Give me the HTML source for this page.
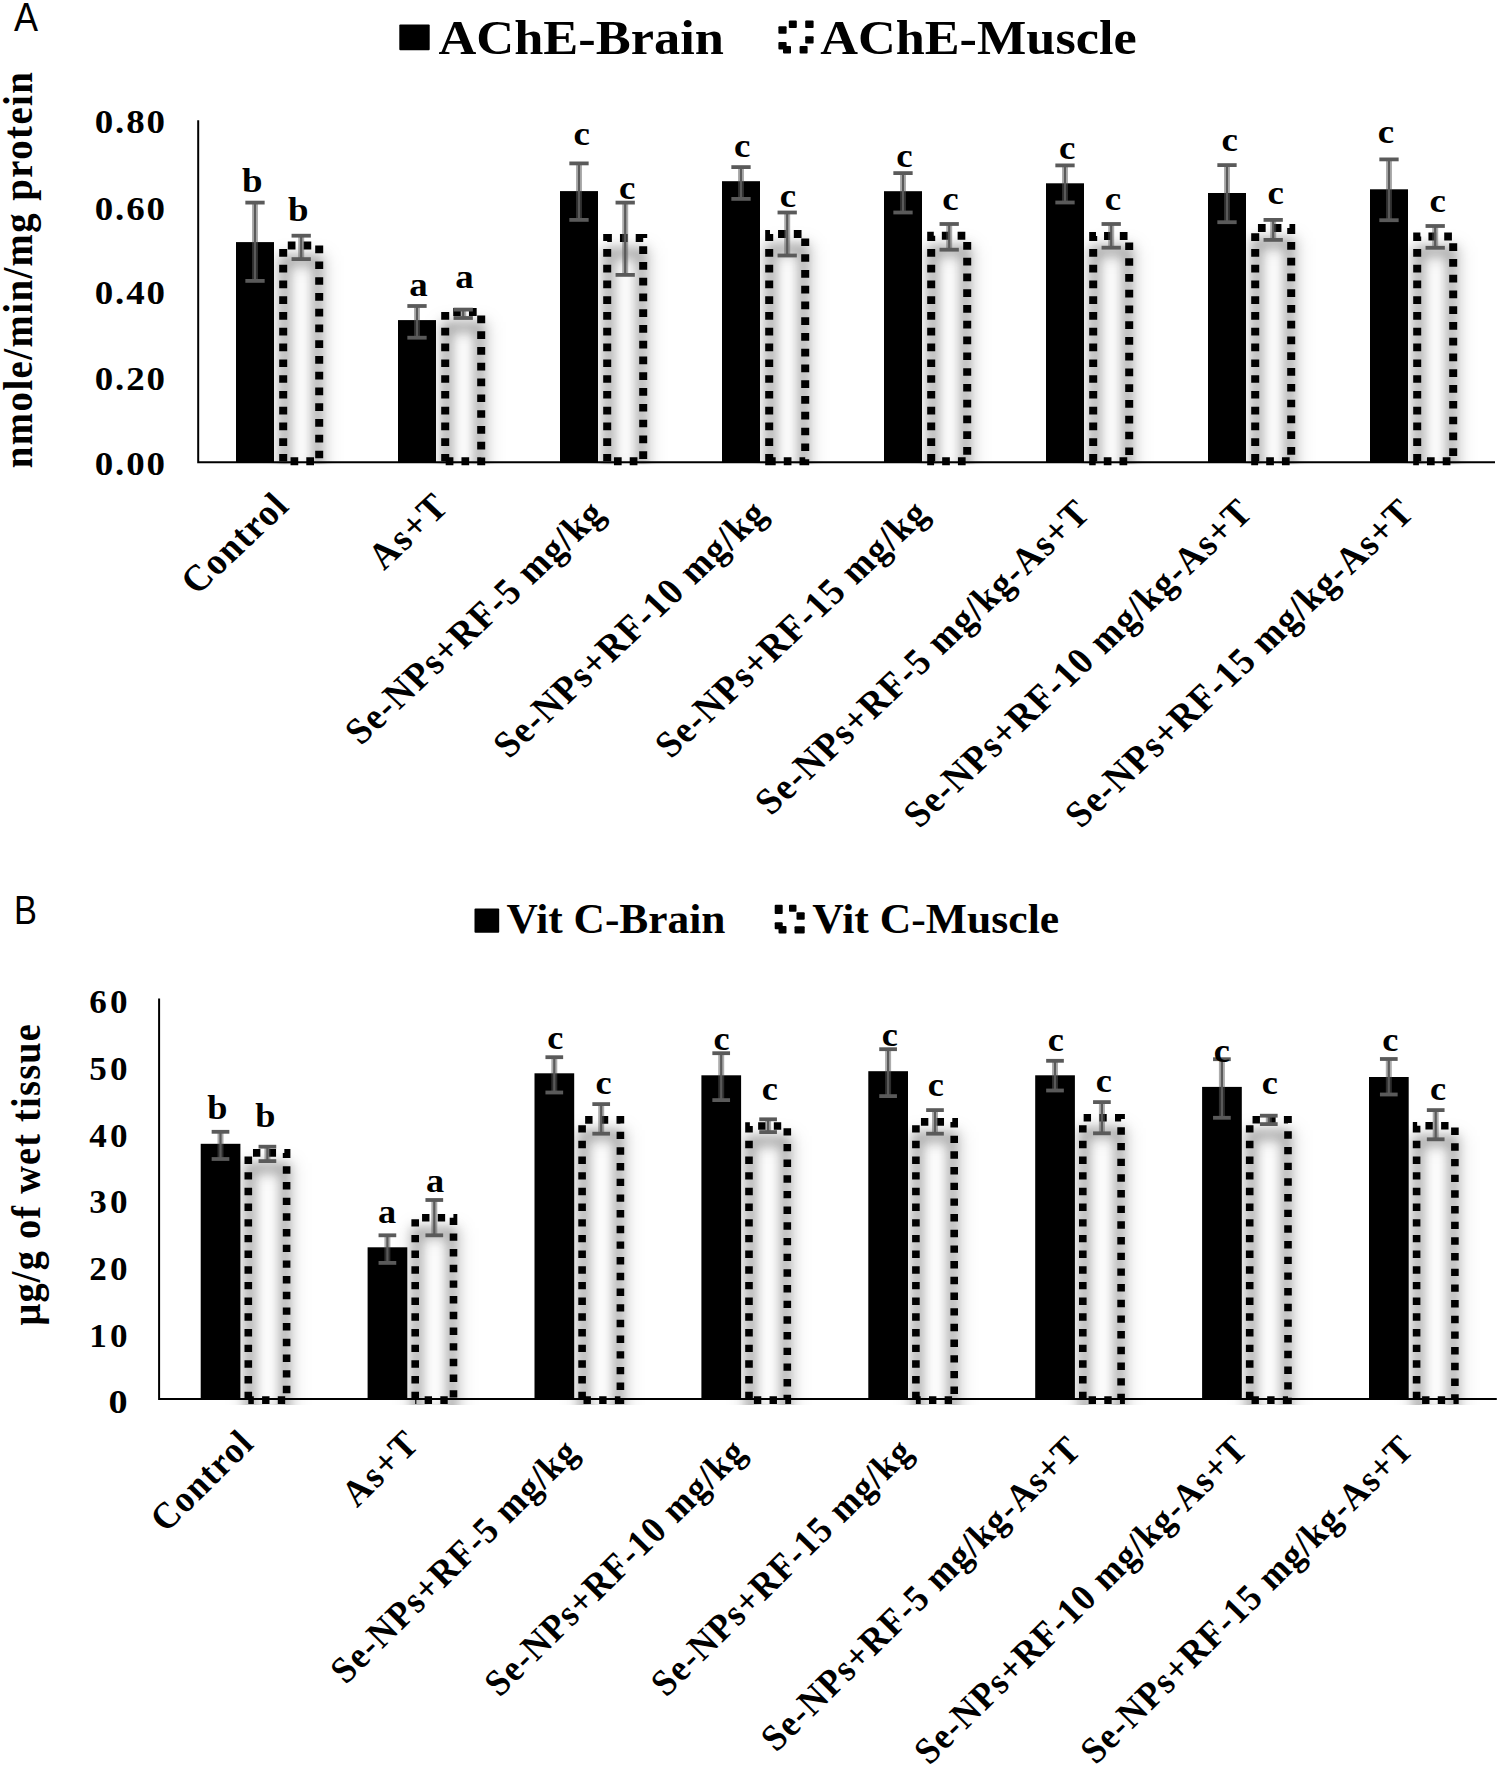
<!DOCTYPE html><html><head><meta charset="utf-8"><style>html,body{margin:0;padding:0;background:#fff;}body{width:1499px;height:1766px;overflow:hidden;}svg{display:block;}</style></head><body>
<svg width="1499" height="1766" viewBox="0 0 1499 1766">
<defs><filter id="bl" x="-50%" y="-20%" width="200%" height="140%"><feGaussianBlur stdDeviation="5.5"/></filter><filter id="bl2" x="-80%" y="-30%" width="260%" height="160%"><feGaussianBlur stdDeviation="9"/></filter></defs>
<rect x="0" y="0" width="1499" height="1766" fill="#fff"/>
<defs><clipPath id="clipA"><rect x="198.2" y="-79.7" width="1316.8" height="543.9"/></clipPath></defs>
<rect x="236.00" y="242.10" width="38.00" height="220.10" fill="#000"/>
<rect x="398.00" y="320.10" width="38.00" height="142.10" fill="#000"/>
<rect x="560.00" y="191.10" width="38.00" height="271.10" fill="#000"/>
<rect x="722.00" y="181.20" width="38.00" height="281.00" fill="#000"/>
<rect x="884.00" y="191.20" width="38.00" height="271.00" fill="#000"/>
<rect x="1046.00" y="183.30" width="38.00" height="278.90" fill="#000"/>
<rect x="1208.00" y="193.00" width="38.00" height="269.20" fill="#000"/>
<rect x="1370.00" y="189.30" width="38.00" height="272.90" fill="#000"/>
<g clip-path="url(#clipA)"><path d="M282.20,461.20 L282.20,245.50 L320.20,245.50 L320.20,461.20 Z" fill="none" stroke="#000" stroke-opacity="0.14" stroke-width="10" transform="translate(1,15)" filter="url(#bl2)"/></g>
<g clip-path="url(#clipA)"><path d="M285.20,461.20 L285.20,245.50 L317.20,245.50 L317.20,461.20 Z" fill="none" stroke="#000" stroke-opacity="0.28" stroke-width="10" transform="translate(0,15)" filter="url(#bl)"/></g>
<path d="M283.20,461.20 L283.20,245.50 L319.20,245.50 L319.20,461.20 Z" fill="none" stroke="#000" stroke-width="8" stroke-dasharray="7.7 8.07" stroke-dashoffset="0.5"/>
<g clip-path="url(#clipA)"><path d="M444.20,461.20 L444.20,312.00 L482.20,312.00 L482.20,461.20 Z" fill="none" stroke="#000" stroke-opacity="0.14" stroke-width="10" transform="translate(1,15)" filter="url(#bl2)"/></g>
<g clip-path="url(#clipA)"><path d="M447.20,461.20 L447.20,312.00 L479.20,312.00 L479.20,461.20 Z" fill="none" stroke="#000" stroke-opacity="0.28" stroke-width="10" transform="translate(0,15)" filter="url(#bl)"/></g>
<path d="M445.20,461.20 L445.20,312.00 L481.20,312.00 L481.20,461.20 Z" fill="none" stroke="#000" stroke-width="8" stroke-dasharray="7.7 8.07" stroke-dashoffset="0.5"/>
<g clip-path="url(#clipA)"><path d="M606.20,461.20 L606.20,237.90 L644.20,237.90 L644.20,461.20 Z" fill="none" stroke="#000" stroke-opacity="0.14" stroke-width="10" transform="translate(1,15)" filter="url(#bl2)"/></g>
<g clip-path="url(#clipA)"><path d="M609.20,461.20 L609.20,237.90 L641.20,237.90 L641.20,461.20 Z" fill="none" stroke="#000" stroke-opacity="0.28" stroke-width="10" transform="translate(0,15)" filter="url(#bl)"/></g>
<path d="M607.20,461.20 L607.20,237.90 L643.20,237.90 L643.20,461.20 Z" fill="none" stroke="#000" stroke-width="8" stroke-dasharray="7.7 8.07" stroke-dashoffset="0.5"/>
<g clip-path="url(#clipA)"><path d="M768.20,461.20 L768.20,234.00 L806.20,234.00 L806.20,461.20 Z" fill="none" stroke="#000" stroke-opacity="0.14" stroke-width="10" transform="translate(1,15)" filter="url(#bl2)"/></g>
<g clip-path="url(#clipA)"><path d="M771.20,461.20 L771.20,234.00 L803.20,234.00 L803.20,461.20 Z" fill="none" stroke="#000" stroke-opacity="0.28" stroke-width="10" transform="translate(0,15)" filter="url(#bl)"/></g>
<path d="M769.20,461.20 L769.20,234.00 L805.20,234.00 L805.20,461.20 Z" fill="none" stroke="#000" stroke-width="8" stroke-dasharray="7.7 8.07" stroke-dashoffset="0.5"/>
<g clip-path="url(#clipA)"><path d="M930.20,461.20 L930.20,235.80 L968.20,235.80 L968.20,461.20 Z" fill="none" stroke="#000" stroke-opacity="0.14" stroke-width="10" transform="translate(1,15)" filter="url(#bl2)"/></g>
<g clip-path="url(#clipA)"><path d="M933.20,461.20 L933.20,235.80 L965.20,235.80 L965.20,461.20 Z" fill="none" stroke="#000" stroke-opacity="0.28" stroke-width="10" transform="translate(0,15)" filter="url(#bl)"/></g>
<path d="M931.20,461.20 L931.20,235.80 L967.20,235.80 L967.20,461.20 Z" fill="none" stroke="#000" stroke-width="8" stroke-dasharray="7.7 8.07" stroke-dashoffset="0.5"/>
<g clip-path="url(#clipA)"><path d="M1092.20,461.20 L1092.20,236.00 L1130.20,236.00 L1130.20,461.20 Z" fill="none" stroke="#000" stroke-opacity="0.14" stroke-width="10" transform="translate(1,15)" filter="url(#bl2)"/></g>
<g clip-path="url(#clipA)"><path d="M1095.20,461.20 L1095.20,236.00 L1127.20,236.00 L1127.20,461.20 Z" fill="none" stroke="#000" stroke-opacity="0.28" stroke-width="10" transform="translate(0,15)" filter="url(#bl)"/></g>
<path d="M1093.20,461.20 L1093.20,236.00 L1129.20,236.00 L1129.20,461.20 Z" fill="none" stroke="#000" stroke-width="8" stroke-dasharray="7.7 8.07" stroke-dashoffset="0.5"/>
<g clip-path="url(#clipA)"><path d="M1254.20,461.20 L1254.20,227.90 L1292.20,227.90 L1292.20,461.20 Z" fill="none" stroke="#000" stroke-opacity="0.14" stroke-width="10" transform="translate(1,15)" filter="url(#bl2)"/></g>
<g clip-path="url(#clipA)"><path d="M1257.20,461.20 L1257.20,227.90 L1289.20,227.90 L1289.20,461.20 Z" fill="none" stroke="#000" stroke-opacity="0.28" stroke-width="10" transform="translate(0,15)" filter="url(#bl)"/></g>
<path d="M1255.20,461.20 L1255.20,227.90 L1291.20,227.90 L1291.20,461.20 Z" fill="none" stroke="#000" stroke-width="8" stroke-dasharray="7.7 8.07" stroke-dashoffset="0.5"/>
<g clip-path="url(#clipA)"><path d="M1416.20,461.20 L1416.20,236.40 L1454.20,236.40 L1454.20,461.20 Z" fill="none" stroke="#000" stroke-opacity="0.14" stroke-width="10" transform="translate(1,15)" filter="url(#bl2)"/></g>
<g clip-path="url(#clipA)"><path d="M1419.20,461.20 L1419.20,236.40 L1451.20,236.40 L1451.20,461.20 Z" fill="none" stroke="#000" stroke-opacity="0.28" stroke-width="10" transform="translate(0,15)" filter="url(#bl)"/></g>
<path d="M1417.20,461.20 L1417.20,236.40 L1453.20,236.40 L1453.20,461.20 Z" fill="none" stroke="#000" stroke-width="8" stroke-dasharray="7.7 8.07" stroke-dashoffset="0.5"/>
<g stroke="#5a5a5a"><line x1="255.00" y1="202.60" x2="255.00" y2="280.90" stroke-width="6" stroke-opacity="0.5"/><line x1="255.00" y1="202.60" x2="255.00" y2="280.90" stroke-width="2.2"/><line x1="245.35" y1="202.60" x2="264.65" y2="202.60" stroke-width="3.8"/><line x1="245.35" y1="280.90" x2="264.65" y2="280.90" stroke-width="3.8"/></g>
<g stroke="#5a5a5a"><line x1="301.20" y1="235.70" x2="301.20" y2="259.10" stroke-width="6" stroke-opacity="0.5"/><line x1="301.20" y1="235.70" x2="301.20" y2="259.10" stroke-width="2.2"/><line x1="291.55" y1="235.70" x2="310.85" y2="235.70" stroke-width="3.8"/><line x1="291.55" y1="259.10" x2="310.85" y2="259.10" stroke-width="3.8"/></g>
<g stroke="#5a5a5a"><line x1="417.00" y1="306.00" x2="417.00" y2="337.70" stroke-width="6" stroke-opacity="0.5"/><line x1="417.00" y1="306.00" x2="417.00" y2="337.70" stroke-width="2.2"/><line x1="407.35" y1="306.00" x2="426.65" y2="306.00" stroke-width="3.8"/><line x1="407.35" y1="337.70" x2="426.65" y2="337.70" stroke-width="3.8"/></g>
<g stroke="#5a5a5a"><line x1="463.20" y1="309.60" x2="463.20" y2="318.00" stroke-width="6" stroke-opacity="0.5"/><line x1="463.20" y1="309.60" x2="463.20" y2="318.00" stroke-width="2.2"/><line x1="453.55" y1="309.60" x2="472.85" y2="309.60" stroke-width="3.8"/><line x1="453.55" y1="318.00" x2="472.85" y2="318.00" stroke-width="3.8"/></g>
<g stroke="#5a5a5a"><line x1="579.00" y1="163.40" x2="579.00" y2="219.90" stroke-width="6" stroke-opacity="0.5"/><line x1="579.00" y1="163.40" x2="579.00" y2="219.90" stroke-width="2.2"/><line x1="569.35" y1="163.40" x2="588.65" y2="163.40" stroke-width="3.8"/><line x1="569.35" y1="219.90" x2="588.65" y2="219.90" stroke-width="3.8"/></g>
<g stroke="#5a5a5a"><line x1="625.20" y1="202.60" x2="625.20" y2="274.90" stroke-width="6" stroke-opacity="0.5"/><line x1="625.20" y1="202.60" x2="625.20" y2="274.90" stroke-width="2.2"/><line x1="615.55" y1="202.60" x2="634.85" y2="202.60" stroke-width="3.8"/><line x1="615.55" y1="274.90" x2="634.85" y2="274.90" stroke-width="3.8"/></g>
<g stroke="#5a5a5a"><line x1="741.00" y1="167.10" x2="741.00" y2="198.90" stroke-width="6" stroke-opacity="0.5"/><line x1="741.00" y1="167.10" x2="741.00" y2="198.90" stroke-width="2.2"/><line x1="731.35" y1="167.10" x2="750.65" y2="167.10" stroke-width="3.8"/><line x1="731.35" y1="198.90" x2="750.65" y2="198.90" stroke-width="3.8"/></g>
<g stroke="#5a5a5a"><line x1="787.20" y1="212.50" x2="787.20" y2="255.50" stroke-width="6" stroke-opacity="0.5"/><line x1="787.20" y1="212.50" x2="787.20" y2="255.50" stroke-width="2.2"/><line x1="777.55" y1="212.50" x2="796.85" y2="212.50" stroke-width="3.8"/><line x1="777.55" y1="255.50" x2="796.85" y2="255.50" stroke-width="3.8"/></g>
<g stroke="#5a5a5a"><line x1="903.00" y1="173.10" x2="903.00" y2="212.50" stroke-width="6" stroke-opacity="0.5"/><line x1="903.00" y1="173.10" x2="903.00" y2="212.50" stroke-width="2.2"/><line x1="893.35" y1="173.10" x2="912.65" y2="173.10" stroke-width="3.8"/><line x1="893.35" y1="212.50" x2="912.65" y2="212.50" stroke-width="3.8"/></g>
<g stroke="#5a5a5a"><line x1="949.20" y1="224.00" x2="949.20" y2="249.70" stroke-width="6" stroke-opacity="0.5"/><line x1="949.20" y1="224.00" x2="949.20" y2="249.70" stroke-width="2.2"/><line x1="939.55" y1="224.00" x2="958.85" y2="224.00" stroke-width="3.8"/><line x1="939.55" y1="249.70" x2="958.85" y2="249.70" stroke-width="3.8"/></g>
<g stroke="#5a5a5a"><line x1="1065.00" y1="165.40" x2="1065.00" y2="202.50" stroke-width="6" stroke-opacity="0.5"/><line x1="1065.00" y1="165.40" x2="1065.00" y2="202.50" stroke-width="2.2"/><line x1="1055.35" y1="165.40" x2="1074.65" y2="165.40" stroke-width="3.8"/><line x1="1055.35" y1="202.50" x2="1074.65" y2="202.50" stroke-width="3.8"/></g>
<g stroke="#5a5a5a"><line x1="1111.20" y1="224.00" x2="1111.20" y2="247.70" stroke-width="6" stroke-opacity="0.5"/><line x1="1111.20" y1="224.00" x2="1111.20" y2="247.70" stroke-width="2.2"/><line x1="1101.55" y1="224.00" x2="1120.85" y2="224.00" stroke-width="3.8"/><line x1="1101.55" y1="247.70" x2="1120.85" y2="247.70" stroke-width="3.8"/></g>
<g stroke="#5a5a5a"><line x1="1227.00" y1="165.10" x2="1227.00" y2="222.20" stroke-width="6" stroke-opacity="0.5"/><line x1="1227.00" y1="165.10" x2="1227.00" y2="222.20" stroke-width="2.2"/><line x1="1217.35" y1="165.10" x2="1236.65" y2="165.10" stroke-width="3.8"/><line x1="1217.35" y1="222.20" x2="1236.65" y2="222.20" stroke-width="3.8"/></g>
<g stroke="#5a5a5a"><line x1="1273.20" y1="219.90" x2="1273.20" y2="239.90" stroke-width="6" stroke-opacity="0.5"/><line x1="1273.20" y1="219.90" x2="1273.20" y2="239.90" stroke-width="2.2"/><line x1="1263.55" y1="219.90" x2="1282.85" y2="219.90" stroke-width="3.8"/><line x1="1263.55" y1="239.90" x2="1282.85" y2="239.90" stroke-width="3.8"/></g>
<g stroke="#5a5a5a"><line x1="1389.00" y1="159.40" x2="1389.00" y2="220.20" stroke-width="6" stroke-opacity="0.5"/><line x1="1389.00" y1="159.40" x2="1389.00" y2="220.20" stroke-width="2.2"/><line x1="1379.35" y1="159.40" x2="1398.65" y2="159.40" stroke-width="3.8"/><line x1="1379.35" y1="220.20" x2="1398.65" y2="220.20" stroke-width="3.8"/></g>
<g stroke="#5a5a5a"><line x1="1435.20" y1="226.00" x2="1435.20" y2="247.80" stroke-width="6" stroke-opacity="0.5"/><line x1="1435.20" y1="226.00" x2="1435.20" y2="247.80" stroke-width="2.2"/><line x1="1425.55" y1="226.00" x2="1444.85" y2="226.00" stroke-width="3.8"/><line x1="1425.55" y1="247.80" x2="1444.85" y2="247.80" stroke-width="3.8"/></g>
<path d="M198.20,120.30 L198.20,462.20 L1495.00,462.20" fill="none" stroke="#000" stroke-width="2"/>
<text id="t0" class="lA" transform="translate(252.20,191.60) scale(1.1200,1)" font-family='"Liberation Serif", serif' font-weight="bold" font-size="33.00" text-anchor="middle">b</text>
<text id="t1" class="lA" transform="translate(298.20,221.00) scale(1.1200,1)" font-family='"Liberation Serif", serif' font-weight="bold" font-size="33.00" text-anchor="middle">b</text>
<text id="t2" class="lA" transform="translate(418.40,295.90) scale(1.1200,1)" font-family='"Liberation Serif", serif' font-weight="bold" font-size="33.00" text-anchor="middle">a</text>
<text id="t3" class="lA" transform="translate(464.50,287.90) scale(1.1200,1)" font-family='"Liberation Serif", serif' font-weight="bold" font-size="33.00" text-anchor="middle">a</text>
<text id="t4" class="lA" transform="translate(581.60,145.30) scale(1.1200,1)" font-family='"Liberation Serif", serif' font-weight="bold" font-size="33.00" text-anchor="middle">c</text>
<text id="t5" class="lA" transform="translate(627.30,199.20) scale(1.1200,1)" font-family='"Liberation Serif", serif' font-weight="bold" font-size="33.00" text-anchor="middle">c</text>
<text id="t6" class="lA" transform="translate(742.10,156.70) scale(1.1200,1)" font-family='"Liberation Serif", serif' font-weight="bold" font-size="33.00" text-anchor="middle">c</text>
<text id="t7" class="lA" transform="translate(788.00,207.40) scale(1.1200,1)" font-family='"Liberation Serif", serif' font-weight="bold" font-size="33.00" text-anchor="middle">c</text>
<text id="t8" class="lA" transform="translate(904.50,166.70) scale(1.1200,1)" font-family='"Liberation Serif", serif' font-weight="bold" font-size="33.00" text-anchor="middle">c</text>
<text id="t9" class="lA" transform="translate(950.40,209.70) scale(1.1200,1)" font-family='"Liberation Serif", serif' font-weight="bold" font-size="33.00" text-anchor="middle">c</text>
<text id="t10" class="lA" transform="translate(1067.20,159.00) scale(1.1200,1)" font-family='"Liberation Serif", serif' font-weight="bold" font-size="33.00" text-anchor="middle">c</text>
<text id="t11" class="lA" transform="translate(1113.00,209.70) scale(1.1200,1)" font-family='"Liberation Serif", serif' font-weight="bold" font-size="33.00" text-anchor="middle">c</text>
<text id="t12" class="lA" transform="translate(1229.70,150.80) scale(1.1200,1)" font-family='"Liberation Serif", serif' font-weight="bold" font-size="33.00" text-anchor="middle">c</text>
<text id="t13" class="lA" transform="translate(1275.60,204.30) scale(1.1200,1)" font-family='"Liberation Serif", serif' font-weight="bold" font-size="33.00" text-anchor="middle">c</text>
<text id="t14" class="lA" transform="translate(1385.90,143.00) scale(1.1200,1)" font-family='"Liberation Serif", serif' font-weight="bold" font-size="33.00" text-anchor="middle">c</text>
<text id="t15" class="lA" transform="translate(1437.80,211.50) scale(1.1200,1)" font-family='"Liberation Serif", serif' font-weight="bold" font-size="33.00" text-anchor="middle">c</text>
<text id="t16" class="tA" transform="translate(165.00,474.50) scale(1.2000,1) scale(0.9200,1)" font-family='"Liberation Serif", serif' font-weight="bold" font-size="33.50" text-anchor="end" textLength="63.72" lengthAdjust="spacing">0.00</text>
<text id="t17" class="tA" transform="translate(165.00,390.30) scale(1.2000,1) scale(0.9200,1)" font-family='"Liberation Serif", serif' font-weight="bold" font-size="33.50" text-anchor="end" textLength="63.72" lengthAdjust="spacing">0.20</text>
<text id="t18" class="tA" transform="translate(165.00,303.60) scale(1.2000,1) scale(0.9200,1)" font-family='"Liberation Serif", serif' font-weight="bold" font-size="33.50" text-anchor="end" textLength="63.72" lengthAdjust="spacing">0.40</text>
<text id="t19" class="tA" transform="translate(165.00,219.50) scale(1.2000,1) scale(0.9200,1)" font-family='"Liberation Serif", serif' font-weight="bold" font-size="33.50" text-anchor="end" textLength="63.72" lengthAdjust="spacing">0.60</text>
<text id="t20" class="tA" transform="translate(165.00,133.20) scale(1.2000,1) scale(0.9200,1)" font-family='"Liberation Serif", serif' font-weight="bold" font-size="33.50" text-anchor="end" textLength="63.72" lengthAdjust="spacing">0.80</text>
<text id="t21" class="yA" transform="translate(32.40,270.15) rotate(-90) scale(0.9300,1)" font-family='"Liberation Serif", serif' font-weight="bold" font-size="41.65" text-anchor="middle" textLength="425.79" lengthAdjust="spacing">nmole/min/mg protein</text>
<text id="t22" class="xA0" transform="translate(290.30,508.40) scale(1.0650,1) rotate(-45) scale(0.9300,1)" font-family='"Liberation Serif", serif' font-weight="bold" font-size="37.40" text-anchor="end" textLength="133.28" lengthAdjust="spacing">Control</text>
<text id="t23" class="xA1" transform="translate(450.10,509.10) scale(1.0650,1) rotate(-45) scale(0.9300,1)" font-family='"Liberation Serif", serif' font-weight="bold" font-size="37.40" text-anchor="end" textLength="94.41" lengthAdjust="spacing">As+T</text>
<text id="t24" class="xA2" transform="translate(606.20,516.10) scale(1.0650,1) rotate(-45) scale(0.9300,1)" font-family='"Liberation Serif", serif' font-weight="bold" font-size="37.40" text-anchor="end" textLength="350.12" lengthAdjust="spacing">Se-NPs+RF-5 mg/kg</text>
<text id="t25" class="xA3" transform="translate(768.60,516.10) scale(1.0650,1) rotate(-45) scale(0.9300,1)" font-family='"Liberation Serif", serif' font-weight="bold" font-size="37.40" text-anchor="end" textLength="370.22" lengthAdjust="spacing">Se-NPs+RF-10 mg/kg</text>
<text id="t26" class="xA4" transform="translate(930.20,516.10) scale(1.0650,1) rotate(-45) scale(0.9300,1)" font-family='"Liberation Serif", serif' font-weight="bold" font-size="37.40" text-anchor="end" textLength="370.22" lengthAdjust="spacing">Se-NPs+RF-15 mg/kg</text>
<text id="t27" class="xA5" transform="translate(1091.80,515.50) scale(1.0650,1) rotate(-45) scale(0.9300,1)" font-family='"Liberation Serif", serif' font-weight="bold" font-size="37.40" text-anchor="end" textLength="457.92" lengthAdjust="spacing">Se-NPs+RF-5 mg/kg-As+T</text>
<text id="t28" class="xA6" transform="translate(1254.20,514.90) scale(1.0650,1) rotate(-45) scale(0.9300,1)" font-family='"Liberation Serif", serif' font-weight="bold" font-size="37.40" text-anchor="end" textLength="478.02" lengthAdjust="spacing">Se-NPs+RF-10 mg/kg-As+T</text>
<text id="t29" class="xA7" transform="translate(1415.80,514.90) scale(1.0650,1) rotate(-45) scale(0.9300,1)" font-family='"Liberation Serif", serif' font-weight="bold" font-size="37.40" text-anchor="end" textLength="478.02" lengthAdjust="spacing">Se-NPs+RF-15 mg/kg-As+T</text>
<rect x="399.3" y="24.5" width="30.4" height="25.7" fill="#000" rx="1"/>
<text id="t30" class="g1A" transform="translate(438.50,54.00) scale(1.0920,1)" font-family='"Liberation Serif", serif' font-weight="bold" font-size="48.00" text-anchor="start">AChE-Brain</text>
<rect x="778.4" y="26.2" width="8.2" height="7.6" fill="#000" rx="1"/>
<rect x="788.8" y="20.4" width="8" height="7.6" fill="#000" rx="1"/>
<rect x="805.2" y="20.4" width="8.4" height="7.6" fill="#000" rx="1"/>
<rect x="805.2" y="36.2" width="8.4" height="7.4" fill="#000" rx="1"/>
<rect x="799.6" y="46" width="8" height="7.6" fill="#000" rx="1"/>
<rect x="783" y="46" width="8" height="7.6" fill="#000" rx="1"/>
<rect x="778.4" y="42" width="8.2" height="7.4" fill="#000" rx="1"/>
<text id="t31" class="g2A" transform="translate(820.20,54.00) scale(1.0890,1)" font-family='"Liberation Serif", serif' font-weight="bold" font-size="48.00" text-anchor="start">AChE-Muscle</text>
<text id="t32" class="pA" transform="translate(13.90,31.30) scale(0.8950,1)" font-family='"Liberation Sans", sans-serif' font-weight="normal" font-size="40.30" text-anchor="start">A</text>
<defs><clipPath id="clipB"><rect x="159.1" y="798.5" width="1357.7" height="606.5999999999999"/></clipPath></defs>
<rect x="200.70" y="1143.80" width="39.70" height="255.30" fill="#000"/>
<rect x="367.60" y="1247.30" width="39.70" height="151.80" fill="#000"/>
<rect x="534.50" y="1073.30" width="39.70" height="325.80" fill="#000"/>
<rect x="701.40" y="1075.30" width="39.70" height="323.80" fill="#000"/>
<rect x="868.30" y="1071.20" width="39.70" height="327.90" fill="#000"/>
<rect x="1035.20" y="1075.30" width="39.70" height="323.80" fill="#000"/>
<rect x="1202.10" y="1086.90" width="39.70" height="312.20" fill="#000"/>
<rect x="1369.00" y="1077.00" width="39.70" height="322.10" fill="#000"/>
<g clip-path="url(#clipB)"><path d="M247.30,1400.10 L247.30,1152.90 L287.60,1152.90 L287.60,1400.10 Z" fill="none" stroke="#000" stroke-opacity="0.14" stroke-width="10" transform="translate(1,15)" filter="url(#bl2)"/></g>
<g clip-path="url(#clipB)"><path d="M250.30,1400.10 L250.30,1152.90 L284.60,1152.90 L284.60,1400.10 Z" fill="none" stroke="#000" stroke-opacity="0.28" stroke-width="10" transform="translate(0,15)" filter="url(#bl)"/></g>
<path d="M248.30,1400.10 L248.30,1152.90 L286.60,1152.90 L286.60,1400.10 Z" fill="none" stroke="#000" stroke-width="7.6" stroke-dasharray="7.4 8.28" stroke-dashoffset="-1.0"/>
<g clip-path="url(#clipB)"><path d="M414.20,1400.10 L414.20,1217.80 L454.50,1217.80 L454.50,1400.10 Z" fill="none" stroke="#000" stroke-opacity="0.14" stroke-width="10" transform="translate(1,15)" filter="url(#bl2)"/></g>
<g clip-path="url(#clipB)"><path d="M417.20,1400.10 L417.20,1217.80 L451.50,1217.80 L451.50,1400.10 Z" fill="none" stroke="#000" stroke-opacity="0.28" stroke-width="10" transform="translate(0,15)" filter="url(#bl)"/></g>
<path d="M415.20,1400.10 L415.20,1217.80 L453.50,1217.80 L453.50,1400.10 Z" fill="none" stroke="#000" stroke-width="7.6" stroke-dasharray="7.4 8.28" stroke-dashoffset="-1.0"/>
<g clip-path="url(#clipB)"><path d="M581.10,1400.10 L581.10,1119.90 L621.40,1119.90 L621.40,1400.10 Z" fill="none" stroke="#000" stroke-opacity="0.14" stroke-width="10" transform="translate(1,15)" filter="url(#bl2)"/></g>
<g clip-path="url(#clipB)"><path d="M584.10,1400.10 L584.10,1119.90 L618.40,1119.90 L618.40,1400.10 Z" fill="none" stroke="#000" stroke-opacity="0.28" stroke-width="10" transform="translate(0,15)" filter="url(#bl)"/></g>
<path d="M582.10,1400.10 L582.10,1119.90 L620.40,1119.90 L620.40,1400.10 Z" fill="none" stroke="#000" stroke-width="7.6" stroke-dasharray="7.4 8.28" stroke-dashoffset="-1.0"/>
<g clip-path="url(#clipB)"><path d="M748.00,1400.10 L748.00,1126.00 L788.30,1126.00 L788.30,1400.10 Z" fill="none" stroke="#000" stroke-opacity="0.14" stroke-width="10" transform="translate(1,15)" filter="url(#bl2)"/></g>
<g clip-path="url(#clipB)"><path d="M751.00,1400.10 L751.00,1126.00 L785.30,1126.00 L785.30,1400.10 Z" fill="none" stroke="#000" stroke-opacity="0.28" stroke-width="10" transform="translate(0,15)" filter="url(#bl)"/></g>
<path d="M749.00,1400.10 L749.00,1126.00 L787.30,1126.00 L787.30,1400.10 Z" fill="none" stroke="#000" stroke-width="7.6" stroke-dasharray="7.4 8.28" stroke-dashoffset="-1.0"/>
<g clip-path="url(#clipB)"><path d="M914.90,1400.10 L914.90,1121.90 L955.20,1121.90 L955.20,1400.10 Z" fill="none" stroke="#000" stroke-opacity="0.14" stroke-width="10" transform="translate(1,15)" filter="url(#bl2)"/></g>
<g clip-path="url(#clipB)"><path d="M917.90,1400.10 L917.90,1121.90 L952.20,1121.90 L952.20,1400.10 Z" fill="none" stroke="#000" stroke-opacity="0.28" stroke-width="10" transform="translate(0,15)" filter="url(#bl)"/></g>
<path d="M915.90,1400.10 L915.90,1121.90 L954.20,1121.90 L954.20,1400.10 Z" fill="none" stroke="#000" stroke-width="7.6" stroke-dasharray="7.4 8.28" stroke-dashoffset="-1.0"/>
<g clip-path="url(#clipB)"><path d="M1081.80,1400.10 L1081.80,1117.70 L1122.10,1117.70 L1122.10,1400.10 Z" fill="none" stroke="#000" stroke-opacity="0.14" stroke-width="10" transform="translate(1,15)" filter="url(#bl2)"/></g>
<g clip-path="url(#clipB)"><path d="M1084.80,1400.10 L1084.80,1117.70 L1119.10,1117.70 L1119.10,1400.10 Z" fill="none" stroke="#000" stroke-opacity="0.28" stroke-width="10" transform="translate(0,15)" filter="url(#bl)"/></g>
<path d="M1082.80,1400.10 L1082.80,1117.70 L1121.10,1117.70 L1121.10,1400.10 Z" fill="none" stroke="#000" stroke-width="7.6" stroke-dasharray="7.4 8.28" stroke-dashoffset="-1.0"/>
<g clip-path="url(#clipB)"><path d="M1248.70,1400.10 L1248.70,1119.70 L1289.00,1119.70 L1289.00,1400.10 Z" fill="none" stroke="#000" stroke-opacity="0.14" stroke-width="10" transform="translate(1,15)" filter="url(#bl2)"/></g>
<g clip-path="url(#clipB)"><path d="M1251.70,1400.10 L1251.70,1119.70 L1286.00,1119.70 L1286.00,1400.10 Z" fill="none" stroke="#000" stroke-opacity="0.28" stroke-width="10" transform="translate(0,15)" filter="url(#bl)"/></g>
<path d="M1249.70,1400.10 L1249.70,1119.70 L1288.00,1119.70 L1288.00,1400.10 Z" fill="none" stroke="#000" stroke-width="7.6" stroke-dasharray="7.4 8.28" stroke-dashoffset="-1.0"/>
<g clip-path="url(#clipB)"><path d="M1415.60,1400.10 L1415.60,1125.70 L1455.90,1125.70 L1455.90,1400.10 Z" fill="none" stroke="#000" stroke-opacity="0.14" stroke-width="10" transform="translate(1,15)" filter="url(#bl2)"/></g>
<g clip-path="url(#clipB)"><path d="M1418.60,1400.10 L1418.60,1125.70 L1452.90,1125.70 L1452.90,1400.10 Z" fill="none" stroke="#000" stroke-opacity="0.28" stroke-width="10" transform="translate(0,15)" filter="url(#bl)"/></g>
<path d="M1416.60,1400.10 L1416.60,1125.70 L1454.90,1125.70 L1454.90,1400.10 Z" fill="none" stroke="#000" stroke-width="7.6" stroke-dasharray="7.4 8.28" stroke-dashoffset="-1.0"/>
<g stroke="#5a5a5a"><line x1="220.50" y1="1131.80" x2="220.50" y2="1159.00" stroke-width="6" stroke-opacity="0.5"/><line x1="220.50" y1="1131.80" x2="220.50" y2="1159.00" stroke-width="2.2"/><line x1="211.65" y1="1131.80" x2="229.35" y2="1131.80" stroke-width="3.8"/><line x1="211.65" y1="1159.00" x2="229.35" y2="1159.00" stroke-width="3.8"/></g>
<g stroke="#5a5a5a"><line x1="267.40" y1="1146.70" x2="267.40" y2="1161.10" stroke-width="6" stroke-opacity="0.5"/><line x1="267.40" y1="1146.70" x2="267.40" y2="1161.10" stroke-width="2.2"/><line x1="258.55" y1="1146.70" x2="276.25" y2="1146.70" stroke-width="3.8"/><line x1="258.55" y1="1161.10" x2="276.25" y2="1161.10" stroke-width="3.8"/></g>
<g stroke="#5a5a5a"><line x1="387.40" y1="1235.30" x2="387.40" y2="1262.90" stroke-width="6" stroke-opacity="0.5"/><line x1="387.40" y1="1235.30" x2="387.40" y2="1262.90" stroke-width="2.2"/><line x1="378.55" y1="1235.30" x2="396.25" y2="1235.30" stroke-width="3.8"/><line x1="378.55" y1="1262.90" x2="396.25" y2="1262.90" stroke-width="3.8"/></g>
<g stroke="#5a5a5a"><line x1="434.30" y1="1200.00" x2="434.30" y2="1235.30" stroke-width="6" stroke-opacity="0.5"/><line x1="434.30" y1="1200.00" x2="434.30" y2="1235.30" stroke-width="2.2"/><line x1="425.45" y1="1200.00" x2="443.15" y2="1200.00" stroke-width="3.8"/><line x1="425.45" y1="1235.30" x2="443.15" y2="1235.30" stroke-width="3.8"/></g>
<g stroke="#5a5a5a"><line x1="554.30" y1="1057.20" x2="554.30" y2="1092.50" stroke-width="6" stroke-opacity="0.5"/><line x1="554.30" y1="1057.20" x2="554.30" y2="1092.50" stroke-width="2.2"/><line x1="545.45" y1="1057.20" x2="563.15" y2="1057.20" stroke-width="3.8"/><line x1="545.45" y1="1092.50" x2="563.15" y2="1092.50" stroke-width="3.8"/></g>
<g stroke="#5a5a5a"><line x1="601.20" y1="1104.10" x2="601.20" y2="1133.70" stroke-width="6" stroke-opacity="0.5"/><line x1="601.20" y1="1104.10" x2="601.20" y2="1133.70" stroke-width="2.2"/><line x1="592.35" y1="1104.10" x2="610.05" y2="1104.10" stroke-width="3.8"/><line x1="592.35" y1="1133.70" x2="610.05" y2="1133.70" stroke-width="3.8"/></g>
<g stroke="#5a5a5a"><line x1="721.20" y1="1053.20" x2="721.20" y2="1100.10" stroke-width="6" stroke-opacity="0.5"/><line x1="721.20" y1="1053.20" x2="721.20" y2="1100.10" stroke-width="2.2"/><line x1="712.35" y1="1053.20" x2="730.05" y2="1053.20" stroke-width="3.8"/><line x1="712.35" y1="1100.10" x2="730.05" y2="1100.10" stroke-width="3.8"/></g>
<g stroke="#5a5a5a"><line x1="768.10" y1="1119.30" x2="768.10" y2="1132.10" stroke-width="6" stroke-opacity="0.5"/><line x1="768.10" y1="1119.30" x2="768.10" y2="1132.10" stroke-width="2.2"/><line x1="759.25" y1="1119.30" x2="776.95" y2="1119.30" stroke-width="3.8"/><line x1="759.25" y1="1132.10" x2="776.95" y2="1132.10" stroke-width="3.8"/></g>
<g stroke="#5a5a5a"><line x1="888.10" y1="1049.20" x2="888.10" y2="1096.10" stroke-width="6" stroke-opacity="0.5"/><line x1="888.10" y1="1049.20" x2="888.10" y2="1096.10" stroke-width="2.2"/><line x1="879.25" y1="1049.20" x2="896.95" y2="1049.20" stroke-width="3.8"/><line x1="879.25" y1="1096.10" x2="896.95" y2="1096.10" stroke-width="3.8"/></g>
<g stroke="#5a5a5a"><line x1="935.00" y1="1110.10" x2="935.00" y2="1133.70" stroke-width="6" stroke-opacity="0.5"/><line x1="935.00" y1="1110.10" x2="935.00" y2="1133.70" stroke-width="2.2"/><line x1="926.15" y1="1110.10" x2="943.85" y2="1110.10" stroke-width="3.8"/><line x1="926.15" y1="1133.70" x2="943.85" y2="1133.70" stroke-width="3.8"/></g>
<g stroke="#5a5a5a"><line x1="1055.00" y1="1060.80" x2="1055.00" y2="1090.50" stroke-width="6" stroke-opacity="0.5"/><line x1="1055.00" y1="1060.80" x2="1055.00" y2="1090.50" stroke-width="2.2"/><line x1="1046.15" y1="1060.80" x2="1063.85" y2="1060.80" stroke-width="3.8"/><line x1="1046.15" y1="1090.50" x2="1063.85" y2="1090.50" stroke-width="3.8"/></g>
<g stroke="#5a5a5a"><line x1="1101.90" y1="1102.10" x2="1101.90" y2="1133.30" stroke-width="6" stroke-opacity="0.5"/><line x1="1101.90" y1="1102.10" x2="1101.90" y2="1133.30" stroke-width="2.2"/><line x1="1093.05" y1="1102.10" x2="1110.75" y2="1102.10" stroke-width="3.8"/><line x1="1093.05" y1="1133.30" x2="1110.75" y2="1133.30" stroke-width="3.8"/></g>
<g stroke="#5a5a5a"><line x1="1221.90" y1="1059.20" x2="1221.90" y2="1117.80" stroke-width="6" stroke-opacity="0.5"/><line x1="1221.90" y1="1059.20" x2="1221.90" y2="1117.80" stroke-width="2.2"/><line x1="1213.05" y1="1059.20" x2="1230.75" y2="1059.20" stroke-width="3.8"/><line x1="1213.05" y1="1117.80" x2="1230.75" y2="1117.80" stroke-width="3.8"/></g>
<g stroke="#5a5a5a"><line x1="1268.80" y1="1115.70" x2="1268.80" y2="1124.10" stroke-width="6" stroke-opacity="0.5"/><line x1="1268.80" y1="1115.70" x2="1268.80" y2="1124.10" stroke-width="2.2"/><line x1="1259.95" y1="1115.70" x2="1277.65" y2="1115.70" stroke-width="3.8"/><line x1="1259.95" y1="1124.10" x2="1277.65" y2="1124.10" stroke-width="3.8"/></g>
<g stroke="#5a5a5a"><line x1="1388.80" y1="1059.00" x2="1388.80" y2="1094.50" stroke-width="6" stroke-opacity="0.5"/><line x1="1388.80" y1="1059.00" x2="1388.80" y2="1094.50" stroke-width="2.2"/><line x1="1379.95" y1="1059.00" x2="1397.65" y2="1059.00" stroke-width="3.8"/><line x1="1379.95" y1="1094.50" x2="1397.65" y2="1094.50" stroke-width="3.8"/></g>
<g stroke="#5a5a5a"><line x1="1435.70" y1="1110.10" x2="1435.70" y2="1139.30" stroke-width="6" stroke-opacity="0.5"/><line x1="1435.70" y1="1110.10" x2="1435.70" y2="1139.30" stroke-width="2.2"/><line x1="1426.85" y1="1110.10" x2="1444.55" y2="1110.10" stroke-width="3.8"/><line x1="1426.85" y1="1139.30" x2="1444.55" y2="1139.30" stroke-width="3.8"/></g>
<path d="M159.10,998.50 L159.10,1399.10 L1496.80,1399.10" fill="none" stroke="#000" stroke-width="2"/>
<text id="t33" class="lB" transform="translate(217.30,1119.00) scale(1.1000,1)" font-family='"Liberation Serif", serif' font-weight="bold" font-size="33.00" text-anchor="middle">b</text>
<text id="t34" class="lB" transform="translate(265.30,1127.00) scale(1.1000,1)" font-family='"Liberation Serif", serif' font-weight="bold" font-size="33.00" text-anchor="middle">b</text>
<text id="t35" class="lB" transform="translate(387.00,1223.20) scale(1.1000,1)" font-family='"Liberation Serif", serif' font-weight="bold" font-size="33.00" text-anchor="middle">a</text>
<text id="t36" class="lB" transform="translate(435.10,1191.90) scale(1.1000,1)" font-family='"Liberation Serif", serif' font-weight="bold" font-size="33.00" text-anchor="middle">a</text>
<text id="t37" class="lB" transform="translate(555.40,1048.70) scale(1.1000,1)" font-family='"Liberation Serif", serif' font-weight="bold" font-size="33.00" text-anchor="middle">c</text>
<text id="t38" class="lB" transform="translate(603.50,1093.60) scale(1.1000,1)" font-family='"Liberation Serif", serif' font-weight="bold" font-size="33.00" text-anchor="middle">c</text>
<text id="t39" class="lB" transform="translate(721.60,1050.30) scale(1.1000,1)" font-family='"Liberation Serif", serif' font-weight="bold" font-size="33.00" text-anchor="middle">c</text>
<text id="t40" class="lB" transform="translate(769.70,1099.60) scale(1.1000,1)" font-family='"Liberation Serif", serif' font-weight="bold" font-size="33.00" text-anchor="middle">c</text>
<text id="t41" class="lB" transform="translate(889.80,1046.30) scale(1.1000,1)" font-family='"Liberation Serif", serif' font-weight="bold" font-size="33.00" text-anchor="middle">c</text>
<text id="t42" class="lB" transform="translate(935.90,1095.60) scale(1.1000,1)" font-family='"Liberation Serif", serif' font-weight="bold" font-size="33.00" text-anchor="middle">c</text>
<text id="t43" class="lB" transform="translate(1055.80,1050.70) scale(1.1000,1)" font-family='"Liberation Serif", serif' font-weight="bold" font-size="33.00" text-anchor="middle">c</text>
<text id="t44" class="lB" transform="translate(1103.90,1091.60) scale(1.1000,1)" font-family='"Liberation Serif", serif' font-weight="bold" font-size="33.00" text-anchor="middle">c</text>
<text id="t45" class="lB" transform="translate(1221.80,1061.90) scale(1.1000,1)" font-family='"Liberation Serif", serif' font-weight="bold" font-size="33.00" text-anchor="middle">c</text>
<text id="t46" class="lB" transform="translate(1269.90,1093.60) scale(1.1000,1)" font-family='"Liberation Serif", serif' font-weight="bold" font-size="33.00" text-anchor="middle">c</text>
<text id="t47" class="lB" transform="translate(1390.20,1050.70) scale(1.1000,1)" font-family='"Liberation Serif", serif' font-weight="bold" font-size="33.00" text-anchor="middle">c</text>
<text id="t48" class="lB" transform="translate(1438.10,1099.60) scale(1.1000,1)" font-family='"Liberation Serif", serif' font-weight="bold" font-size="33.00" text-anchor="middle">c</text>
<text id="t49" class="tB" transform="translate(127.50,1413.30) scale(1.1400,1)" font-family='"Liberation Serif", serif' font-weight="bold" font-size="33.50" text-anchor="end">0</text>
<text id="t50" class="tB" transform="translate(127.50,1346.65) scale(1.1400,1) scale(0.9200,1)" font-family='"Liberation Serif", serif' font-weight="bold" font-size="33.50" text-anchor="end" textLength="36.40" lengthAdjust="spacing">10</text>
<text id="t51" class="tB" transform="translate(127.50,1280.00) scale(1.1400,1) scale(0.9200,1)" font-family='"Liberation Serif", serif' font-weight="bold" font-size="33.50" text-anchor="end" textLength="36.40" lengthAdjust="spacing">20</text>
<text id="t52" class="tB" transform="translate(127.50,1213.35) scale(1.1400,1) scale(0.9200,1)" font-family='"Liberation Serif", serif' font-weight="bold" font-size="33.50" text-anchor="end" textLength="36.40" lengthAdjust="spacing">30</text>
<text id="t53" class="tB" transform="translate(127.50,1146.70) scale(1.1400,1) scale(0.9200,1)" font-family='"Liberation Serif", serif' font-weight="bold" font-size="33.50" text-anchor="end" textLength="36.40" lengthAdjust="spacing">40</text>
<text id="t54" class="tB" transform="translate(127.50,1080.05) scale(1.1400,1) scale(0.9200,1)" font-family='"Liberation Serif", serif' font-weight="bold" font-size="33.50" text-anchor="end" textLength="36.40" lengthAdjust="spacing">50</text>
<text id="t55" class="tB" transform="translate(127.50,1013.40) scale(1.1400,1) scale(0.9200,1)" font-family='"Liberation Serif", serif' font-weight="bold" font-size="33.50" text-anchor="end" textLength="36.40" lengthAdjust="spacing">60</text>
<text id="t56" class="yB" transform="translate(40.10,1175.00) rotate(-90) scale(0.9300,1)" font-family='"Liberation Serif", serif' font-weight="bold" font-size="41.20" text-anchor="middle" textLength="324.43" lengthAdjust="spacing">µg/g of wet tissue</text>
<text id="t57" class="xB0" transform="translate(254.90,1445.90) scale(1.0170,1) rotate(-45) scale(0.9300,1)" font-family='"Liberation Serif", serif' font-weight="bold" font-size="37.40" text-anchor="end" textLength="133.25" lengthAdjust="spacing">Control</text>
<text id="t58" class="xB1" transform="translate(420.20,1446.30) scale(1.0170,1) rotate(-45) scale(0.9300,1)" font-family='"Liberation Serif", serif' font-weight="bold" font-size="37.40" text-anchor="end" textLength="94.41" lengthAdjust="spacing">As+T</text>
<text id="t59" class="xB2" transform="translate(579.80,1455.00) scale(1.0170,1) rotate(-45) scale(0.9300,1)" font-family='"Liberation Serif", serif' font-weight="bold" font-size="37.40" text-anchor="end" textLength="350.05" lengthAdjust="spacing">Se-NPs+RF-5 mg/kg</text>
<text id="t60" class="xB3" transform="translate(747.40,1454.70) scale(1.0170,1) rotate(-45) scale(0.9300,1)" font-family='"Liberation Serif", serif' font-weight="bold" font-size="37.40" text-anchor="end" textLength="370.14" lengthAdjust="spacing">Se-NPs+RF-10 mg/kg</text>
<text id="t61" class="xB4" transform="translate(913.90,1454.50) scale(1.0170,1) rotate(-45) scale(0.9300,1)" font-family='"Liberation Serif", serif' font-weight="bold" font-size="37.40" text-anchor="end" textLength="370.14" lengthAdjust="spacing">Se-NPs+RF-15 mg/kg</text>
<text id="t62" class="xB5" transform="translate(1082.50,1452.00) scale(1.0170,1) rotate(-45) scale(0.9300,1)" font-family='"Liberation Serif", serif' font-weight="bold" font-size="37.40" text-anchor="end" textLength="457.84" lengthAdjust="spacing">Se-NPs+RF-5 mg/kg-As+T</text>
<text id="t63" class="xB6" transform="translate(1249.10,1451.70) scale(1.0170,1) rotate(-45) scale(0.9300,1)" font-family='"Liberation Serif", serif' font-weight="bold" font-size="37.40" text-anchor="end" textLength="477.93" lengthAdjust="spacing">Se-NPs+RF-10 mg/kg-As+T</text>
<text id="t64" class="xB7" transform="translate(1415.30,1451.30) scale(1.0170,1) rotate(-45) scale(0.9300,1)" font-family='"Liberation Serif", serif' font-weight="bold" font-size="37.40" text-anchor="end" textLength="477.93" lengthAdjust="spacing">Se-NPs+RF-15 mg/kg-As+T</text>
<rect x="474.5" y="908.5" width="24.7" height="24.3" fill="#000" rx="1"/>
<text id="t65" class="g1B" transform="translate(506.50,933.00) scale(1.0140,1)" font-family='"Liberation Serif", serif' font-weight="bold" font-size="42.80" text-anchor="start">Vit C-Brain</text>
<rect x="774.7" y="904.7" width="8" height="9.3" fill="#000" rx="1"/>
<rect x="789" y="904.7" width="7.5" height="7" fill="#000" rx="1"/>
<rect x="796.5" y="912.3" width="8.2" height="7.4" fill="#000" rx="1"/>
<rect x="774.7" y="922.3" width="8" height="7" fill="#000" rx="1"/>
<rect x="778.5" y="926" width="8" height="7.5" fill="#000" rx="1"/>
<rect x="794.5" y="926.2" width="10.2" height="7.3" fill="#000" rx="1"/>
<text id="t66" class="g2B" transform="translate(812.30,933.00) scale(1.0200,1)" font-family='"Liberation Serif", serif' font-weight="bold" font-size="42.80" text-anchor="start">Vit C-Muscle</text>
<text id="t67" class="pB" transform="translate(14.10,924.30) scale(0.8600,1)" font-family='"Liberation Sans", sans-serif' font-weight="normal" font-size="40.00" text-anchor="start">B</text>
</svg></body></html>
